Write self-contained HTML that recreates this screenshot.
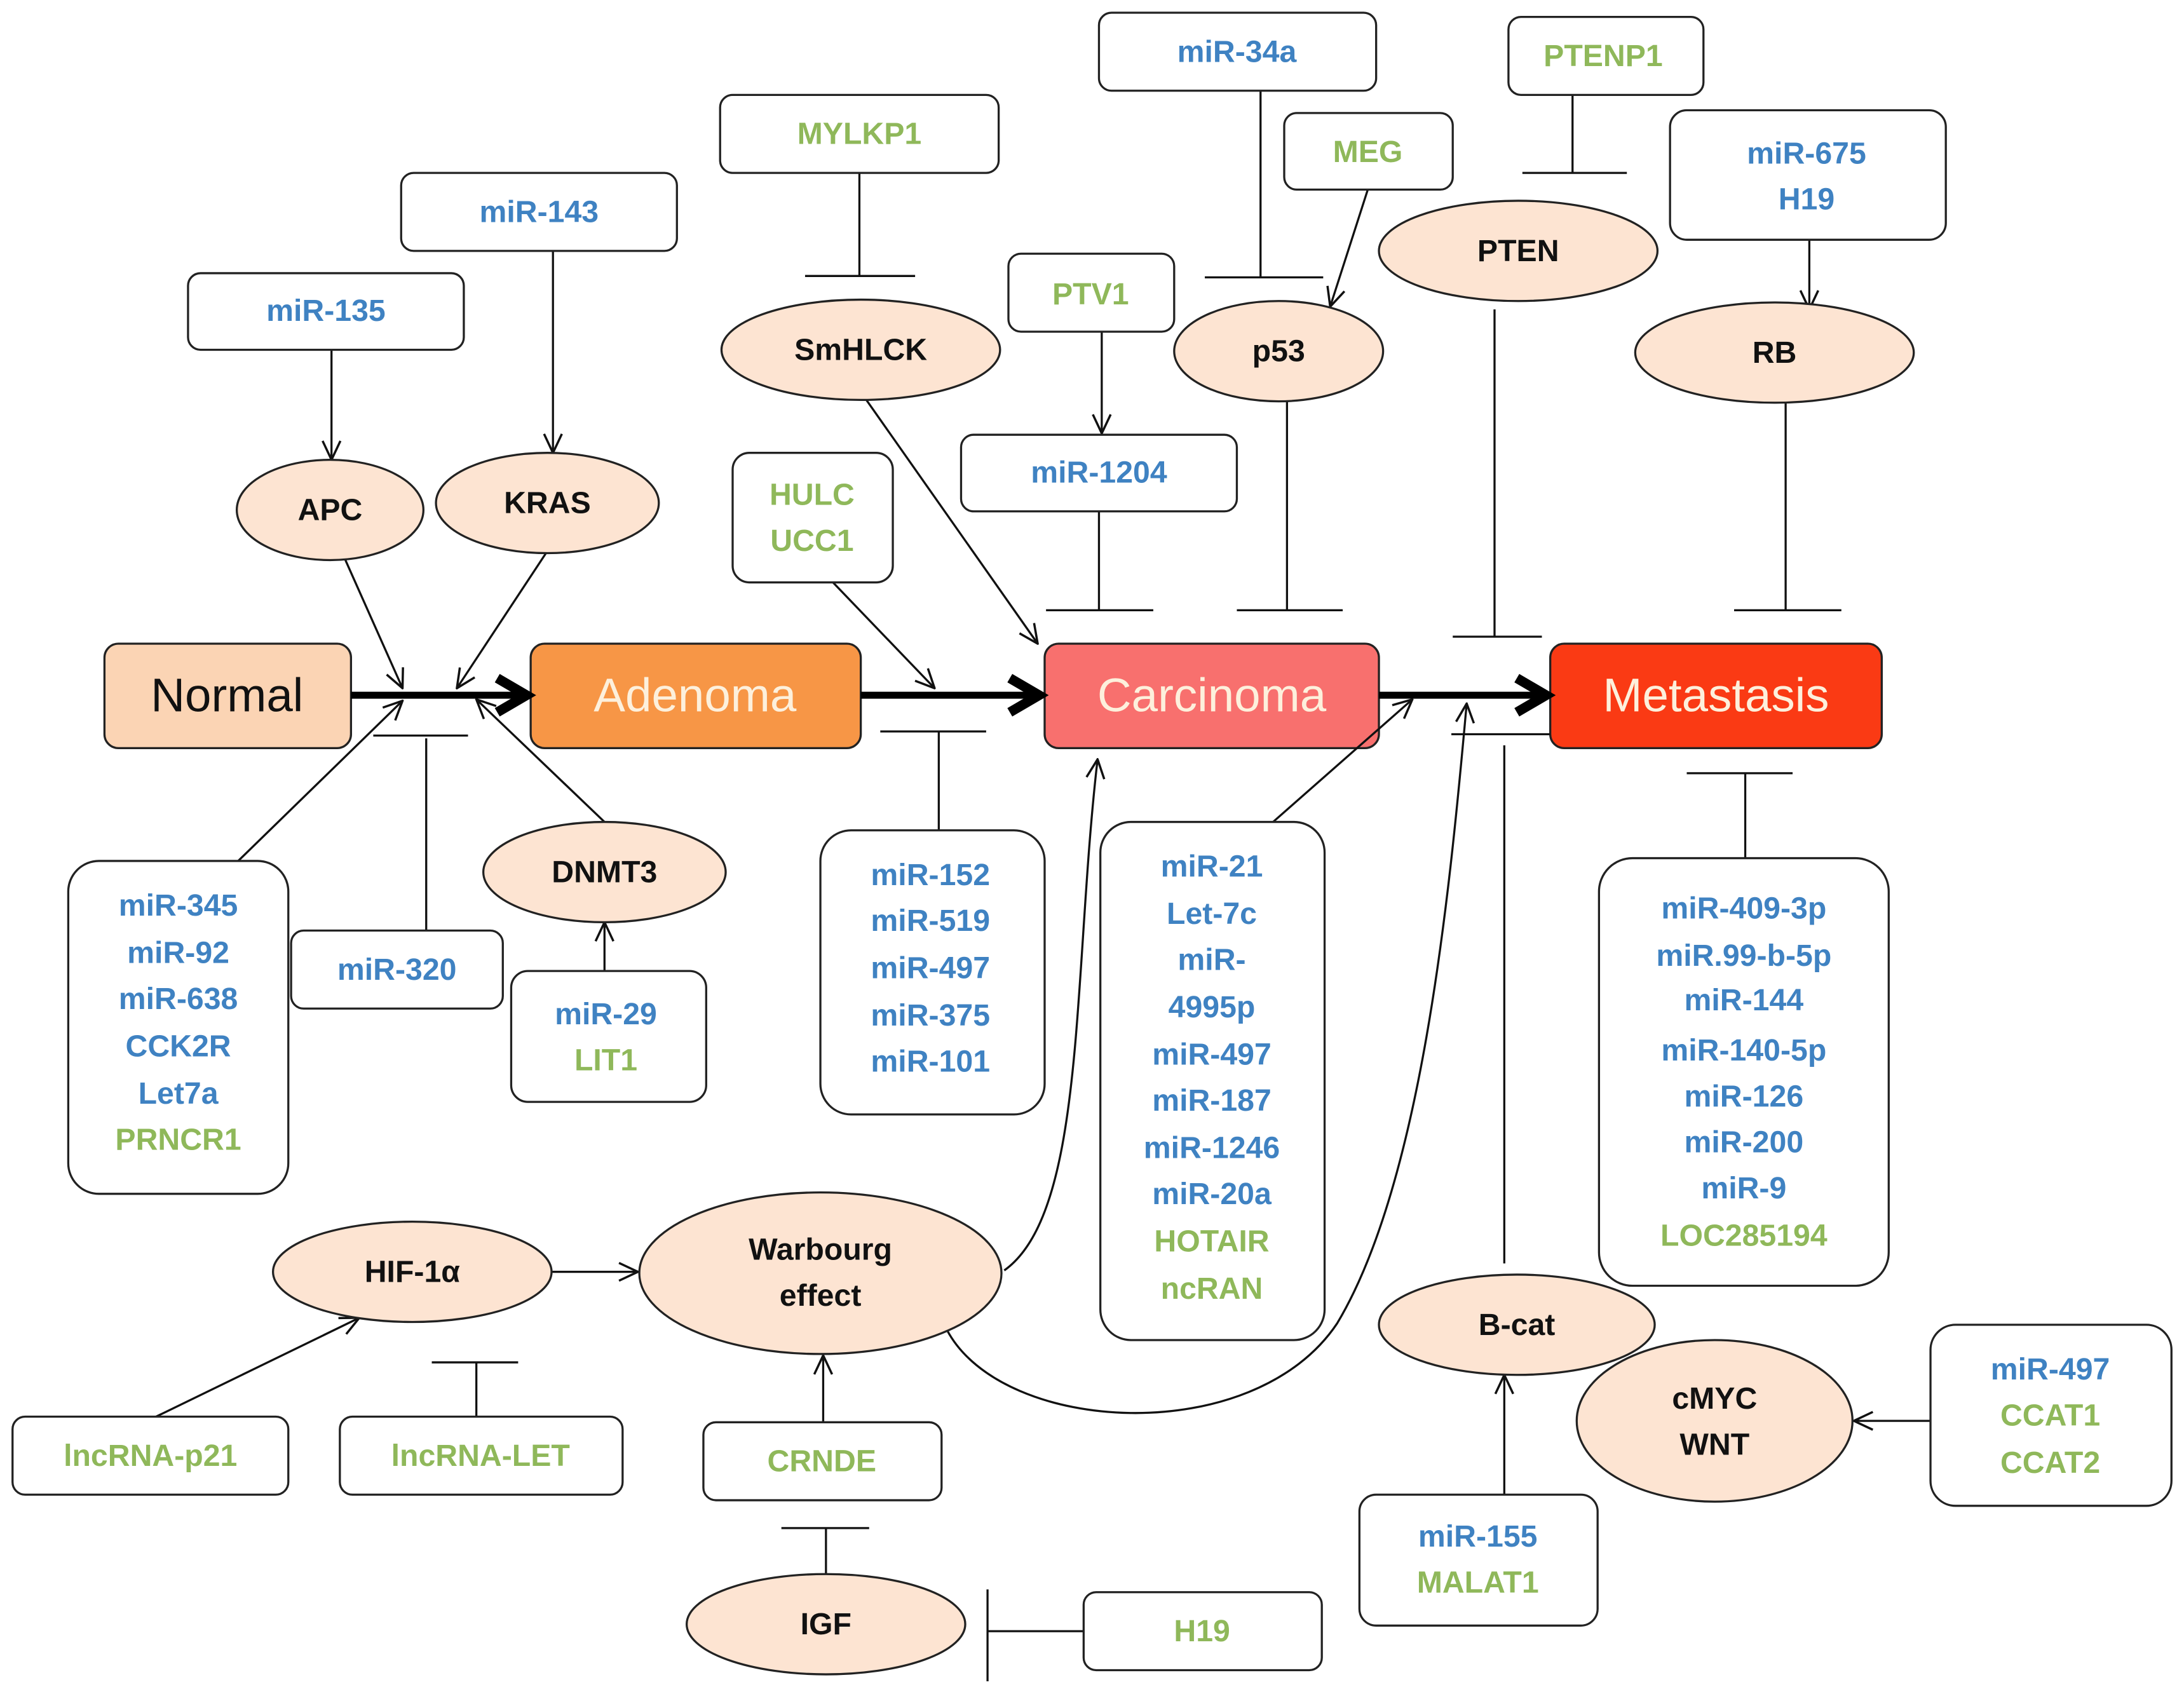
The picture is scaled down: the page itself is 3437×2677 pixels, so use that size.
<!DOCTYPE html>
<html><head><meta charset="utf-8"><style>
html,body{margin:0;padding:0;background:#fff;}
svg{display:block;}
text{font-family:"Liberation Sans",sans-serif;font-weight:bold;text-anchor:middle;dominant-baseline:central;}
.b{fill:#3f82c2;font-size:22px;}
.g{fill:#8fb85a;font-size:22px;}
.k{fill:#111;font-size:22px;}
.n{fill:#fff;stroke:#222;stroke-width:1.5;}
.e{fill:#fde4d2;stroke:#222;stroke-width:1.5;}
.l{stroke:#111;stroke-width:1.5;fill:none;}
.big{font-size:34px;font-weight:normal;}
</style></head><body>
<svg width="3437" height="2677" viewBox="0 0 1568 1221" xmlns="http://www.w3.org/2000/svg">
<defs>
<marker id="a" viewBox="0 0 20 20" refX="19" refY="10" markerWidth="16" markerHeight="16" markerUnits="userSpaceOnUse" orient="auto">
<polyline points="2,2 19,10 2,18" fill="none" stroke="#111" stroke-width="2"/></marker>
<marker id="A" viewBox="0 0 20 20" refX="16" refY="10" markerWidth="7" markerHeight="7" orient="auto">
<polyline points="4,3 16,10 4,17" fill="none" stroke="#000" stroke-width="4"/></marker>
</defs>
<rect width="1568" height="1221" fill="#fff"/>

<!-- main boxes -->
<rect x="75" y="462" width="177" height="75" rx="10" fill="#fbd4b4" stroke="#222" stroke-width="1.5"/>
<text x="163" y="499" class="big" style="fill:#111">Normal</text>
<rect x="381" y="462" width="237" height="75" rx="10" fill="#f79646" stroke="#222" stroke-width="1.5"/>
<text x="499" y="499" class="big" style="fill:#fdf0dc">Adenoma</text>
<rect x="750" y="462" width="240" height="75" rx="10" fill="#f8706e" stroke="#222" stroke-width="1.5"/>
<text x="870" y="499" class="big" style="fill:#fdf0dc">Carcinoma</text>
<rect x="1113" y="462" width="238" height="75" rx="10" fill="#fa3a14" stroke="#222" stroke-width="1.5"/>
<text x="1232" y="499" class="big" style="fill:#fdf0dc">Metastasis</text>

<g stroke="#000" stroke-width="5" marker-end="url(#A)">
<line x1="252" y1="499" x2="378" y2="499"/>
<line x1="618" y1="499" x2="746" y2="499"/>
<line x1="990" y1="499" x2="1110" y2="499"/>
</g>

<!-- connectors -->
<g class="l">
<line x1="238" y1="251" x2="238" y2="330" marker-end="url(#a)"/>
<line x1="397" y1="180" x2="397" y2="325" marker-end="url(#a)"/>
<line x1="617" y1="124" x2="617" y2="198"/><line x1="578" y1="198" x2="657" y2="198"/>
<line x1="905" y1="65" x2="905" y2="199"/><line x1="865" y1="199" x2="950" y2="199"/>
<line x1="982" y1="136" x2="955" y2="220" marker-end="url(#a)"/>
<line x1="1129" y1="68" x2="1129" y2="124"/><line x1="1093" y1="124" x2="1168" y2="124"/>
<line x1="1299" y1="172" x2="1299" y2="222" marker-end="url(#a)"/>
<line x1="791" y1="238" x2="791" y2="311" marker-end="url(#a)"/>
<line x1="789" y1="367" x2="789" y2="438"/><line x1="751" y1="438" x2="828" y2="438"/>
<line x1="924" y1="288" x2="924" y2="438"/><line x1="888" y1="438" x2="964" y2="438"/>
<line x1="1073" y1="222" x2="1073" y2="457"/><line x1="1043" y1="457" x2="1107" y2="457"/>
<line x1="1282" y1="289" x2="1282" y2="438"/><line x1="1245" y1="438" x2="1322" y2="438"/>
<line x1="248" y1="402" x2="289" y2="494" marker-end="url(#a)"/>
<line x1="392" y1="397" x2="328" y2="494" marker-end="url(#a)"/>
<line x1="622" y1="287" x2="745" y2="462" marker-end="url(#a)"/>
<line x1="598" y1="418" x2="671" y2="494" marker-end="url(#a)"/>
<line x1="171" y1="618" x2="289" y2="503" marker-end="url(#a)"/>
<line x1="306" y1="668" x2="306" y2="530"/><line x1="268" y1="528" x2="336" y2="528"/>
<line x1="434" y1="590" x2="342" y2="502" marker-end="url(#a)"/>
<line x1="434" y1="697" x2="434" y2="662" marker-end="url(#a)"/>
<line x1="674" y1="596" x2="674" y2="525"/><line x1="632" y1="525" x2="708" y2="525"/>
<line x1="914" y1="590" x2="1014" y2="502" marker-end="url(#a)"/>
<line x1="1253" y1="616" x2="1253" y2="555"/><line x1="1211" y1="555" x2="1287" y2="555"/>
<line x1="1080" y1="907" x2="1080" y2="535"/><line x1="1042" y1="527" x2="1113" y2="527"/>
<line x1="1080" y1="1073" x2="1080" y2="987" marker-end="url(#a)"/>
<line x1="1386" y1="1020" x2="1331" y2="1020" marker-end="url(#a)"/>
<line x1="396" y1="913" x2="458" y2="913" marker-end="url(#a)"/>
<line x1="112" y1="1017" x2="258" y2="946" marker-end="url(#a)"/>
<line x1="342" y1="1017" x2="342" y2="978"/><line x1="310" y1="978" x2="372" y2="978"/>
<line x1="591" y1="1021" x2="591" y2="973" marker-end="url(#a)"/>
<line x1="593" y1="1130" x2="593" y2="1097"/><line x1="561" y1="1097" x2="624" y2="1097"/>
<line x1="778" y1="1171" x2="709" y2="1171"/><line x1="709" y1="1141" x2="709" y2="1207"/>
<path d="M721,912 C780,870 770,700 788,545" marker-end="url(#a)"/>
<path d="M680,955 C720,1030 900,1040 960,950 C1020,850 1040,650 1053,505" marker-end="url(#a)"/>
</g>

<!-- rect nodes -->
<rect class="n" x="135" y="196" width="198" height="55" rx="9"/><text class="b" x="234" y="223">miR-135</text>
<rect class="n" x="288" y="124" width="198" height="56" rx="9"/><text class="b" x="387" y="152">miR-143</text>
<rect class="n" x="517" y="68" width="200" height="56" rx="9"/><text class="g" x="617" y="96">MYLKP1</text>
<rect class="n" x="789" y="9" width="199" height="56" rx="9"/><text class="b" x="888" y="37">miR-34a</text>
<rect class="n" x="1083" y="12" width="140" height="56" rx="9"/><text class="g" x="1151" y="40">PTENP1</text>
<rect class="n" x="922" y="81" width="121" height="55" rx="9"/><text class="g" x="982" y="109">MEG</text>
<rect class="n" x="1199" y="79" width="198" height="93" rx="12"/><text class="b" x="1297" y="110">miR-675</text><text class="b" x="1297" y="143">H19</text>
<rect class="n" x="724" y="182" width="119" height="56" rx="9"/><text class="g" x="783" y="211">PTV1</text>
<rect class="n" x="690" y="312" width="198" height="55" rx="9"/><text class="b" x="789" y="339">miR-1204</text>
<rect class="n" x="526" y="325" width="115" height="93" rx="12"/><text class="g" x="583" y="355">HULC</text><text class="g" x="583" y="388">UCC1</text>

<rect class="n" x="49" y="618" width="158" height="239" rx="22"/>
<text class="b" x="128" y="650">miR-345</text><text class="b" x="128" y="684">miR-92</text><text class="b" x="128" y="717">miR-638</text>
<text class="b" x="128" y="751">CCK2R</text><text class="b" x="128" y="785">Let7a</text><text class="g" x="128" y="818">PRNCR1</text>
<rect class="n" x="209" y="668" width="152" height="56" rx="9"/><text class="b" x="285" y="696">miR-320</text>
<rect class="n" x="367" y="697" width="140" height="94" rx="12"/><text class="b" x="435" y="728">miR-29</text><text class="g" x="435" y="761">LIT1</text>

<rect class="n" x="589" y="596" width="161" height="204" rx="22"/>
<text class="b" x="668" y="628">miR-152</text><text class="b" x="668" y="661">miR-519</text><text class="b" x="668" y="695">miR-497</text>
<text class="b" x="668" y="729">miR-375</text><text class="b" x="668" y="762">miR-101</text>

<rect class="n" x="790" y="590" width="161" height="372" rx="22"/>
<text class="b" x="870" y="622">miR-21</text><text class="b" x="870" y="656">Let-7c</text><text class="b" x="870" y="689">miR-</text>
<text class="b" x="870" y="723">4995p</text><text class="b" x="870" y="757">miR-497</text><text class="b" x="870" y="790">miR-187</text>
<text class="b" x="870" y="824">miR-1246</text><text class="b" x="870" y="857">miR-20a</text><text class="g" x="870" y="891">HOTAIR</text>
<text class="g" x="870" y="925">ncRAN</text>

<rect class="n" x="1148" y="616" width="208" height="307" rx="24"/>
<text class="b" x="1252" y="652">miR-409-3p</text><text class="b" x="1252" y="686">miR.99-b-5p</text><text class="b" x="1252" y="718">miR-144</text>
<text class="b" x="1252" y="754">miR-140-5p</text><text class="b" x="1252" y="787">miR-126</text><text class="b" x="1252" y="820">miR-200</text>
<text class="b" x="1252" y="853">miR-9</text><text class="g" x="1252" y="887">LOC285194</text>

<rect class="n" x="9" y="1017" width="198" height="56" rx="9"/><text class="g" x="108" y="1045">lncRNA-p21</text>
<rect class="n" x="244" y="1017" width="203" height="56" rx="9"/><text class="g" x="345" y="1045">lncRNA-LET</text>
<rect class="n" x="505" y="1021" width="171" height="56" rx="9"/><text class="g" x="590" y="1049">CRNDE</text>
<rect class="n" x="778" y="1143" width="171" height="56" rx="9"/><text class="g" x="863" y="1171">H19</text>
<rect class="n" x="976" y="1073" width="171" height="94" rx="12"/><text class="b" x="1061" y="1103">miR-155</text><text class="g" x="1061" y="1136">MALAT1</text>
<rect class="n" x="1386" y="951" width="173" height="130" rx="18"/>
<text class="b" x="1472" y="983">miR-497</text><text class="g" x="1472" y="1016">CCAT1</text><text class="g" x="1472" y="1050">CCAT2</text>

<!-- ellipses -->
<ellipse class="e" cx="237" cy="366" rx="67" ry="36"/><text class="k" x="237" y="366">APC</text>
<ellipse class="e" cx="393" cy="361" rx="80" ry="36"/><text class="k" x="393" y="361">KRAS</text>
<ellipse class="e" cx="618" cy="251" rx="100" ry="36"/><text class="k" x="618" y="251">SmHLCK</text>
<ellipse class="e" cx="918" cy="252" rx="75" ry="36"/><text class="k" x="918" y="252">p53</text>
<ellipse class="e" cx="1090" cy="180" rx="100" ry="36"/><text class="k" x="1090" y="180">PTEN</text>
<ellipse class="e" cx="1274" cy="253" rx="100" ry="36"/><text class="k" x="1274" y="253">RB</text>
<ellipse class="e" cx="434" cy="626" rx="87" ry="36"/><text class="k" x="434" y="626">DNMT3</text>
<ellipse class="e" cx="296" cy="913" rx="100" ry="36"/><text class="k" x="296" y="913">HIF-1α</text>
<ellipse class="e" cx="589" cy="914" rx="130" ry="58"/><text class="k" x="589" y="897">Warbourg</text><text class="k" x="589" y="930">effect</text>
<ellipse class="e" cx="1089" cy="951" rx="99" ry="36"/><text class="k" x="1089" y="951">B-cat</text>
<ellipse class="e" cx="1231" cy="1020" rx="99" ry="58"/><text class="k" x="1231" y="1004">cMYC</text><text class="k" x="1231" y="1037">WNT</text>
<ellipse class="e" cx="593" cy="1166" rx="100" ry="36"/><text class="k" x="593" y="1166">IGF</text>
</svg>
</body></html>
